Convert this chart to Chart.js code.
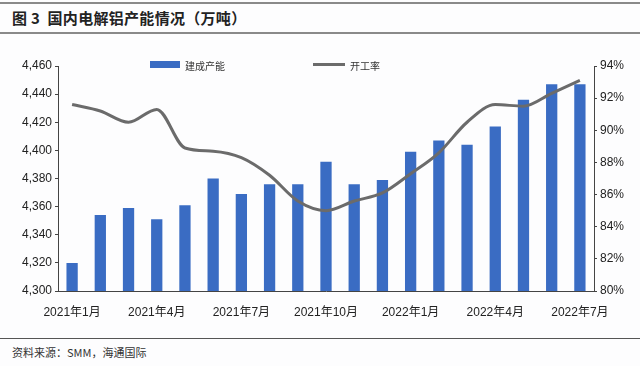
<!DOCTYPE html>
<html>
<head>
<meta charset="utf-8">
<script src="https://cdn.jsdelivr.net/npm/chart.js@4/dist/chart.umd.min.js"></script>
<style>
  body { margin: 0; width: 640px; height: 366px; background: #fdfdfe; position: relative; overflow: hidden;
         font-family: "Liberation Sans", "Noto Sans CJK SC", sans-serif; }
  #topline { position: absolute; left: 0; top: 2px; width: 640px; height: 2px; background: #8a8a8a; }
  #title { position: absolute; left: 12px; top: 7px; font-size: 15px; font-weight: bold; color: #222;
           font-family: "Noto Sans CJK SC", sans-serif; letter-spacing: 0.3px; }
  #titleline { position: absolute; left: 0; top: 32px; width: 640px; height: 2px; background: #8a8a8a; }
  #wrap { position: absolute; left: 0; top: 40px; width: 640px; height: 290px; }
  #srcline { position: absolute; left: 0; top: 338px; width: 640px; height: 1px; background: #555; }
  #source { position: absolute; left: 12px; top: 344px; font-size: 11px; color: #333;
            font-family: "Noto Sans CJK SC", sans-serif; }
  .leg { position: absolute; font-size: 10px; color: #333; font-family: "Noto Sans CJK SC", sans-serif; }
</style>
</head>
<body>
<div id="topline"></div>
<div id="title">图 3&nbsp; 国内电解铝产能情况（万吨）</div>
<div id="titleline"></div>
<div id="wrap"><canvas id="chart" width="640" height="290"></canvas></div>
<div class="leg" style="left:150px;top:61px;width:30px;height:7px;background:#3a6cc3;"></div>
<div class="leg" style="left:185px;top:58px;">建成产能</div>
<div class="leg" style="left:313px;top:63px;width:32px;height:3px;background:#6b6b6b;"></div>
<div class="leg" style="left:350px;top:58px;">开工率</div>
<div id="srcline"></div>
<div id="source">资料来源：SMM，海通国际</div>
<script>
const months = ['2021年1月', '2021年2月', '2021年3月', '2021年4月', '2021年5月', '2021年6月', '2021年7月',
  '2021年8月', '2021年9月', '2021年10月', '2021年11月', '2021年12月', '2022年1月', '2022年2月',
  '2022年3月', '2022年4月', '2022年5月', '2022年6月', '2022年7月'];
const capacity = [4320, 4354, 4359, 4351, 4361, 4380, 4369, 4376, 4376, 4392, 4376, 4379,
  4399, 4407, 4404, 4417, 4436, 4447, 4447];
const utilRate = [91.6, 91.2, 90.5, 91.3, 88.9, 88.7, 88.3, 87.2, 85.6, 85.0, 85.6, 86.1,
  87.3, 88.6, 90.5, 91.6, 91.5, 92.3, 93.1];

const tickFont = { family: '"Liberation Sans", "Noto Sans CJK SC", sans-serif', size: 12 };

new Chart(document.getElementById('chart'), {
  data: {
    labels: months,
    datasets: [
      {
        type: 'line',
        label: '开工率',
        data: utilRate,
        yAxisID: 'y1',
        borderColor: '#6b6b6b',
        borderWidth: 3,
        pointRadius: 0,
        cubicInterpolationMode: 'monotone',
        tension: 0.4
      },
      {
        type: 'bar',
        label: '建成产能',
        data: capacity,
        yAxisID: 'y',
        backgroundColor: '#3a6cc3',
        categoryPercentage: 1,
        barPercentage: 0.4
      }
    ]
  },
  options: {
    responsive: false,
    animation: false,
    layout: { padding: { top: 26, right: 0, left: 0, bottom: 0 } },
    plugins: { legend: { display: false }, tooltip: { enabled: false } },
    scales: {
      x: {
        grid: { display: false },
        border: { color: '#444' },
        ticks: {
          autoSkip: false, maxRotation: 0, color: '#222', font: tickFont, padding: 6,
          callback: (v, i) => (i % 3 === 0 ? months[i] : '')
        },
        afterFit: s => { s.height = 39; }
      },
      y: {
        position: 'left',
        min: 4300, max: 4460,
        grid: { display: true, drawOnChartArea: false, tickLength: 3, color: '#444' },
        border: { color: '#444' },
        ticks: { stepSize: 20, color: '#222', font: tickFont, callback: v => v.toLocaleString('en-US') },
        afterFit: s => { s.width = 58; }
      },
      y1: {
        position: 'right',
        min: 80, max: 94,
        grid: { display: true, drawOnChartArea: false, tickLength: 3, color: '#444' },
        border: { color: '#444' },
        ticks: { stepSize: 2, color: '#222', font: tickFont, callback: v => v + '%' },
        afterFit: s => { s.width = 46; }
      }
    }
  }
});
</script>
</body>
</html>
